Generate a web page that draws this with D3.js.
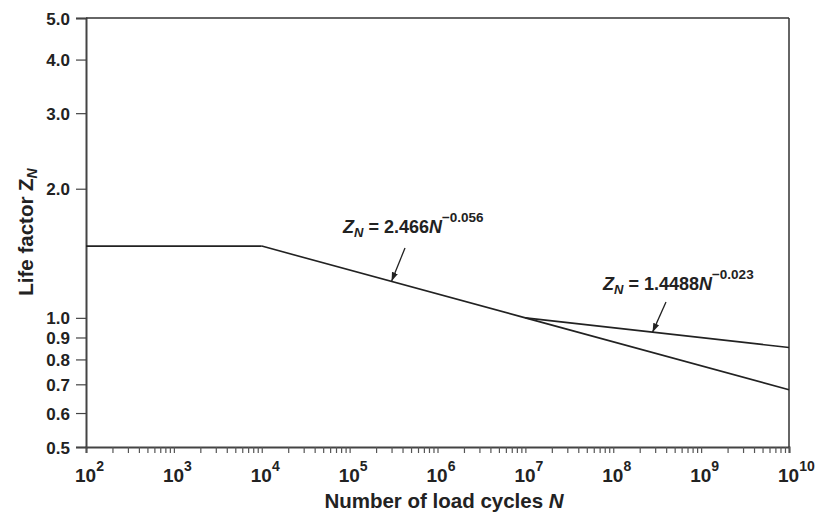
<!DOCTYPE html>
<html>
<head>
<meta charset="utf-8">
<script src="https://cdn.jsdelivr.net/npm/d3@7"></script>
<style>
  body { margin: 0; background: #fff; }
  svg text { font-family: "Liberation Sans", Arial, sans-serif; font-weight: bold; fill: #222; }
</style>
</head>
<body>
<div id="chart"></div>
<script>
// values
const staticLimit = [[1e2, 1.47], [1e4, 1.47]];
const curveA = [[1e4, 1.47], [1e7, 1.0], [1e10, 0.68]];
const curveB = [[1e7, 1.0], [1e10, 0.853]];
const yTicks = [0.5, 0.6, 0.7, 0.8, 0.9, 1.0, 2.0, 3.0, 4.0, 5.0];
const xDecades = [2, 3, 4, 5, 6, 7, 8, 9, 10];

const W = 816, H = 514;
const m = {top: 18, right: 27, bottom: 67, left: 86};

const svg = d3.select('#chart').append('svg')
  .attr('width', W).attr('height', H);

const x = d3.scaleLog().domain([1e2, 1e10]).range([m.left, W - m.right]);
const y = d3.scaleLog().domain([0.5, 5.0]).range([H - m.bottom, m.top]);

// minor ticks 1..9 per decade
let xTickVals = [];
xDecades.forEach(d => {
  if (d < 10) for (let k = 1; k < 10; k++) xTickVals.push(k * Math.pow(10, d));
});
xTickVals.push(1e10);

const gx = svg.append('g')
  .attr('transform', `translate(0,${H - m.bottom})`)
  .call(d3.axisBottom(x).tickValues(xTickVals).tickSize(6).tickFormat(''));
gx.select('.domain').attr('stroke', '#444').attr('stroke-width', 2);
gx.selectAll('.tick line').attr('stroke', '#555').attr('stroke-width', 1.2);

const gy = svg.append('g')
  .attr('transform', `translate(${m.left},0)`)
  .call(d3.axisLeft(y).tickValues(yTicks).tickSize(10).tickPadding(6)
    .tickFormat(d3.format('.1f')));
gy.select('.domain').attr('stroke', '#444').attr('stroke-width', 2);
gy.selectAll('.tick line').attr('stroke', '#444').attr('stroke-width', 1.2);
gy.selectAll('.tick text').style('font-size', '17px').attr('dy', '0.36em');

// top and right frame
svg.append('line').attr('x1', m.left).attr('x2', W - m.right)
  .attr('y1', m.top).attr('y2', m.top).attr('stroke', '#333').attr('stroke-width', 1.5);
svg.append('line').attr('x1', W - m.right).attr('x2', W - m.right)
  .attr('y1', m.top).attr('y2', H - m.bottom).attr('stroke', '#333').attr('stroke-width', 1.5);

// decade labels 10^n
xDecades.forEach(d => {
  const t = svg.append('text')
    .attr('x', x(Math.pow(10, d)) - 11).attr('y', 482)
    .style('font-size', '19px');
  t.append('tspan').text('10');
  t.append('tspan').attr('dy', -11).style('font-size', '14px').text(d);
});

// curves
const line = d3.line().x(d => x(d[0])).y(d => y(d[1]));
[staticLimit, curveA, curveB].forEach(s => {
  svg.append('path').datum(s).attr('d', line)
    .attr('fill', 'none').attr('stroke', '#222').attr('stroke-width', 1.6);
});

// arrow marker
svg.append('defs').append('marker')
  .attr('id', 'arr').attr('viewBox', '0 0 10 10')
  .attr('refX', 10).attr('refY', 5)
  .attr('markerWidth', 9).attr('markerHeight', 9)
  .attr('markerUnits', 'userSpaceOnUse')
  .attr('orient', 'auto')
  .append('path').attr('d', 'M0,1.5L10,5L0,8.5Z').attr('fill', '#222');

function equation(px, py, coef, expo) {
  const t = svg.append('text').attr('x', px).attr('y', py).style('font-size', '18px');
  t.append('tspan').style('font-style', 'italic').text('Z');
  t.append('tspan').attr('dy', 4).style('font-size', '13px').style('font-style', 'italic').text('N');
  t.append('tspan').attr('dy', -4).text(' = ' + coef);
  t.append('tspan').style('font-style', 'italic').text('N');
  t.append('tspan').attr('dy', -11).style('font-size', '13.5px').text(expo);
}

equation(343, 233, '2.466', '\u22120.056');
equation(603, 290, '1.4488', '\u22120.023');

// arrows pointing at the curves
const pA = [3e5, 2.466 * Math.pow(3e5, -0.056)];
const pB = [2.8e8, 1.4488 * Math.pow(2.8e8, -0.023)];
svg.append('line').attr('x1', 405).attr('y1', 248)
  .attr('x2', x(pA[0])).attr('y2', y(pA[1]))
  .attr('stroke', '#222').attr('stroke-width', 1.3).attr('marker-end', 'url(#arr)');
svg.append('line').attr('x1', 666).attr('y1', 302)
  .attr('x2', x(pB[0])).attr('y2', y(pB[1]))
  .attr('stroke', '#222').attr('stroke-width', 1.3).attr('marker-end', 'url(#arr)');

// axis titles
const xt = svg.append('text').attr('x', 444).attr('y', 508)
  .attr('text-anchor', 'middle').style('font-size', '20.5px');
xt.append('tspan').text('Number of load cycles ');
xt.append('tspan').style('font-style', 'italic').text('N');

const yt = svg.append('text')
  .attr('transform', 'translate(33,232) rotate(-90)')
  .attr('text-anchor', 'middle').style('font-size', '20.5px');
yt.append('tspan').text('Life factor Z');
yt.append('tspan').attr('dy', 4).style('font-size', '14px').style('font-style', 'italic').text('N');
</script>
</body>
</html>
